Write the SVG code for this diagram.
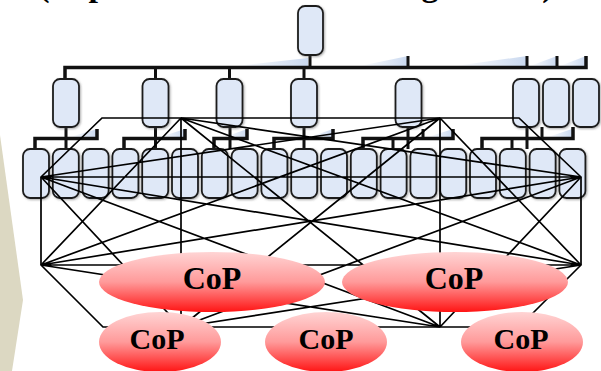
<svg xmlns="http://www.w3.org/2000/svg" width="601" height="371" viewBox="0 0 601 371">
  <defs>
    <linearGradient id="copFill" x1="0" y1="0" x2="0" y2="1">
      <stop offset="0" stop-color="#ffd4d4"/>
      <stop offset="0.5" stop-color="#ff9a9a"/>
      <stop offset="1" stop-color="#ff1414"/>
    </linearGradient>
    <linearGradient id="wedge" x1="0" y1="0" x2="1" y2="0">
      <stop offset="0" stop-color="#c9d8ef" stop-opacity="0"/>
      <stop offset="1" stop-color="#c9d8ef" stop-opacity="1"/>
    </linearGradient>
    <filter id="soft" x="-20%" y="-20%" width="150%" height="150%">
      <feDropShadow dx="1" dy="1" stdDeviation="0.8" flood-color="#555" flood-opacity="0.5"/>
    </filter>
  </defs>
  <style>
    .unit { fill: #dfe8f7; stroke: #1c1c1c; stroke-width: 1.8; filter: url(#soft); }
    .bar { fill: none; stroke: #111; stroke-width: 3.5; stroke-linejoin: miter; }
    .stem { fill: none; stroke: #111; stroke-width: 3; }
    .net { fill: none; stroke: #000; stroke-width: 1.7; stroke-linejoin: miter; }
    .cop { fill: url(#copFill); }
    .lbl { font-family: "Liberation Serif", "Times New Roman", serif; font-weight: bold; fill: #000; text-anchor: middle; }
  </style>

  <!-- beige chevron on the left edge -->
  <polygon points="0,135 23,300 12,371 0,371" fill="#dcd8c2"/>

  <!-- heading line, only its lower part falls inside the canvas -->
  <text class="lbl" y="-4" font-size="34" text-anchor="start"><tspan x="44">(</tspan><tspan x="98">p</tspan><tspan x="430">g</tspan><tspan x="548">)</tspan></text>

  <!-- light blue shading wedges -->
  <g id="shading" fill="url(#wedge)">
    <polygon points="235,66 308,58 308,66"/>
    <polygon points="360,66 408,56 408,66"/>
    <polygon points="455,66 527,56 527,66"/>
    <polygon points="530,66 557,56 557,66"/>
    <polygon points="560,66 586,56 586,66"/>
    <polygon points="70,137 97,129 97,137"/>
    <polygon points="160,137 185,129 185,137"/>
    <polygon points="225,137 247,129 247,137"/>
    <polygon points="310,137 333,129 333,137"/>
    <polygon points="428,137 453,129 453,137"/>
    <polygon points="548,137 572,129 572,137"/>
  </g>

  <!-- hierarchy connectors -->
  <g id="hierarchy-links">
    <path class="bar" d="M65,79 V67.5 H586 V56"/>
    <path class="stem" d="M310,55 V67.5 M155.5,67.5 V79 M229.5,67.5 V79 M304,67.5 V79 M408,67.5 V56 M527,67.5 V56 M557,67.5 V56"/>
    <path class="bar" d="M35,149 V138.5 H97 V129 M124,149 V138.5 H185 V129 M214,149 V138.5 H247 V129 M274,149 V138.5 H333 V129 M363,149 V138.5 H453 V129 M482,149 V138.5 H573 V127"/>
    <path class="stem" d="M66,127 V149 M155.5,127 V149 M230,127 V149 M304,127 V149 M393,138.5 V149 M408,127 V149 M423,138.5 V129 M512,138.5 V149 M527,127 V149 M542,138.5 V127"/>
  </g>

  <!-- top unit -->
  <g id="head"><rect class="unit" x="298" y="6" width="25" height="49" rx="7"/></g>

  <!-- second level units -->
  <g id="level-2">
    <rect class="unit" x="53" y="79" width="26" height="48" rx="7"/>
    <rect class="unit" x="142.5" y="79" width="26" height="48" rx="7"/>
    <rect class="unit" x="216.5" y="79" width="26" height="48" rx="7"/>
    <rect class="unit" x="291" y="79" width="26" height="48" rx="7"/>
    <rect class="unit" x="395.5" y="79" width="26" height="48" rx="7"/>
    <rect class="unit" x="513" y="79" width="26" height="48" rx="7"/>
    <rect class="unit" x="543" y="79" width="26" height="48" rx="7"/>
    <rect class="unit" x="573" y="79" width="26" height="48" rx="7"/>
  </g>

  <!-- third level units -->
  <g id="level-3">
    <rect class="unit" x="23" y="149" width="26" height="49" rx="7"/>
    <rect class="unit" x="52.8" y="149" width="26" height="49" rx="7"/>
    <rect class="unit" x="82.6" y="149" width="26" height="49" rx="7"/>
    <rect class="unit" x="112.4" y="149" width="26" height="49" rx="7"/>
    <rect class="unit" x="142.2" y="149" width="26" height="49" rx="7"/>
    <rect class="unit" x="172" y="149" width="26" height="49" rx="7"/>
    <rect class="unit" x="201.8" y="149" width="26" height="49" rx="7"/>
    <rect class="unit" x="231.6" y="149" width="26" height="49" rx="7"/>
    <rect class="unit" x="261.4" y="149" width="26" height="49" rx="7"/>
    <rect class="unit" x="291.2" y="149" width="26" height="49" rx="7"/>
    <rect class="unit" x="321" y="149" width="26" height="49" rx="7"/>
    <rect class="unit" x="350.8" y="149" width="26" height="49" rx="7"/>
    <rect class="unit" x="380.6" y="149" width="26" height="49" rx="7"/>
    <rect class="unit" x="410.4" y="149" width="26" height="49" rx="7"/>
    <rect class="unit" x="440.2" y="149" width="26" height="49" rx="7"/>
    <rect class="unit" x="470" y="149" width="26" height="49" rx="7"/>
    <rect class="unit" x="499.8" y="149" width="26" height="49" rx="7"/>
    <rect class="unit" x="529.6" y="149" width="26" height="49" rx="7"/>
    <rect class="unit" x="559.4" y="149" width="26" height="49" rx="7"/>
  </g>

  <!-- informal network: outline plus links between the eight hubs -->
  <g id="network-links">
    <path class="net" d="M41,177 L102,118 H519 L581,177 V265 L519,327 H103 L41,265 Z"/>
    <path class="net" d="
      M41,177 L440,118 M41,177 L581,177 M41,177 L581,265 M41,177 L181,327 M41,177 L440,327
      M181,118 L581,177 M181,118 L41,265 M181,118 L581,265 M181,118 L181,327 M181,118 L440,327
      M440,118 L41,265 M440,118 L581,265 M440,118 L181,327 M440,118 L440,327
      M581,177 L41,265 M581,177 L181,327 M581,177 L440,327
      M41,265 L581,265 M41,265 L440,327
      M581,265 L181,327"/>
  </g>

  <!-- communities of practice -->
  <g id="cop-1"><ellipse class="cop" cx="212" cy="282" rx="113" ry="30"/><text class="lbl" x="212" y="289" font-size="32">CoP</text></g>
  <g id="cop-2"><ellipse class="cop" cx="455" cy="282" rx="113" ry="30"/><text class="lbl" x="454" y="289" font-size="32">CoP</text></g>
  <g id="cop-3"><ellipse class="cop" cx="160" cy="342" rx="61" ry="30"/><text class="lbl" x="157" y="349" font-size="30">CoP</text></g>
  <g id="cop-4"><ellipse class="cop" cx="326" cy="342" rx="61" ry="30"/><text class="lbl" x="326" y="349" font-size="30">CoP</text></g>
  <g id="cop-5"><ellipse class="cop" cx="522" cy="342" rx="61" ry="30"/><text class="lbl" x="521" y="349" font-size="30">CoP</text></g>
</svg>
